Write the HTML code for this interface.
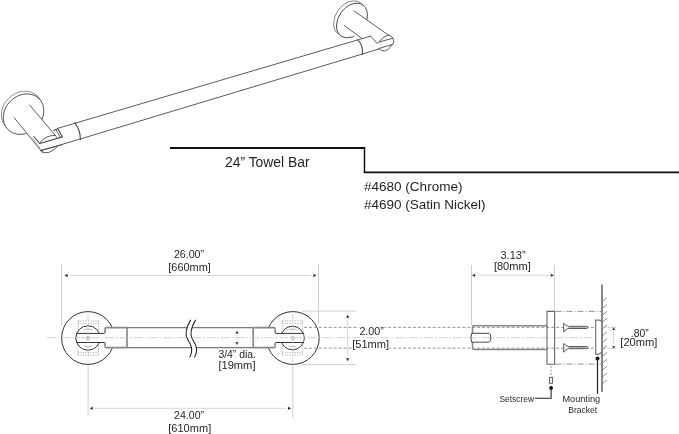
<!DOCTYPE html>
<html><head><meta charset="utf-8"><style>
html,body{margin:0;padding:0;background:#fff;overflow:hidden;}
svg{display:block;will-change:transform;}
text{font-family:"Liberation Sans",sans-serif;fill:#231f20;}
</style></head><body>
<svg width="679" height="434" viewBox="0 0 679 434">
<!-- ===== Label ===== -->
<g stroke="#111" fill="none">
  <line x1="170" y1="147.9" x2="365.2" y2="147.9" stroke-width="2"/>
  <line x1="364.5" y1="147" x2="364.5" y2="173" stroke-width="1.5"/>
  <line x1="363.8" y1="172.3" x2="679" y2="172.3" stroke-width="1.8"/>
</g>
<text x="225.0" y="166.5" font-size="14.5" textLength="84.6" lengthAdjust="spacingAndGlyphs">24” Towel Bar</text>
<text x="363.9" y="191.4" font-size="13.5" textLength="98.6" lengthAdjust="spacingAndGlyphs">#4680 (Chrome)</text>
<text x="363.9" y="208.9" font-size="13.5" textLength="121.6" lengthAdjust="spacingAndGlyphs">#4690 (Satin Nickel)</text>

<!-- ===== Isometric drawing ===== -->
<g fill="none" stroke="#4a4a4a" stroke-width="0.9" stroke-linecap="round" stroke-linejoin="round">
  <!-- left flange -->
  <ellipse cx="21.7" cy="111.4" rx="22" ry="18.5" transform="rotate(-45 21.7 111.4)" fill="#fff" stroke="#777" stroke-width="0.8"/>
  <ellipse cx="23.6" cy="114.1" rx="22" ry="18.5" transform="rotate(-45 23.6 114.1)" fill="#fff"/>
  <!-- left post body (white) -->
  <polygon points="29.8,105.2 57,137.7 62.5,144.7 42.9,152.9 28,135.3 14.2,117.8" fill="#fff" stroke="none"/>
  <line x1="29.8" y1="105.2" x2="56.8" y2="137.3"/>
  <line x1="14.2" y1="117.8" x2="42.9" y2="152.9"/>
  <line x1="32.3" y1="137.7" x2="39.7" y2="147.8" stroke="#aaa"/>
  <!-- end cap ellipse arcs -->
  <path d="M39.7,143.1 Q44,135.5 55.4,135.3"/>
  <path d="M42.1,151.8 Q48.4,155.5 57,147"/>
  <!-- right flange -->
  <ellipse cx="349.1" cy="18.2" rx="19" ry="13.5" transform="rotate(-55 349.1 18.2)" fill="#fff" stroke="#777" stroke-width="0.8"/>
  <ellipse cx="352" cy="20.5" rx="19" ry="13.5" transform="rotate(-55 352 20.5)" fill="#fff"/>
  <!-- right post -->
  <polygon points="354,10.9 388.3,35 393.8,41.2 384.6,51.1 362.3,45 344.2,25.4" fill="#fff" stroke="none"/>
  <line x1="354" y1="10.9" x2="388.3" y2="35"/>
  <line x1="344.2" y1="25.4" x2="362.3" y2="38.8"/>
  <!-- bar body -->
  <polygon points="57.8,128.3 370.6,36.1 378.7,49.1 62.5,145" fill="#fff" stroke="none"/>
  <line x1="57.8" y1="128.3" x2="370.6" y2="36.1"/>
  <line x1="40.9" y1="150.8" x2="378.7" y2="49.1"/>
  <!-- slot -->
  <path d="M33.9,136.5 L39.7,143.5 L62.5,136.9 L57.8,128.7 L53.8,130.6" stroke-width="1.1"/>
  <line x1="56" y1="129.6" x2="60.3" y2="137.4"/>
  <path d="M40.9,150.2 L62.5,144.7"/>
  <!-- left ring -->
  <path d="M74.8,122.8 Q80.5,130 80.4,139.8" stroke-width="1.1"/>
  <!-- right ring -->
  <path d="M357.7,39.8 Q363.5,45 362.3,54.5" stroke-width="1.1"/>
  <!-- right post end -->
  <path d="M370.6,36.1 L375.2,41.1 L377,43.5 L378.9,42.1 Q382,37 388.3,35 Q393,36 393.8,41.2 Q393.5,45 391.2,45.6 Q389,50 384.6,51.1 Q381,51 379.5,49.3"/>
  <line x1="379.5" y1="41.9" x2="392.7" y2="38.3"/>
  <line x1="378.7" y1="48.6" x2="392.3" y2="44.5"/>
</g>

<!-- ===== Elevation: dimension lines (light) ===== -->
<g fill="none" stroke="#c8c8c8" stroke-width="0.9">
  <!-- 26.00 -->
  <line x1="61.6" y1="264" x2="61.6" y2="325.5"/>
  <line x1="318.5" y1="264" x2="318.5" y2="323.5"/>
  <!-- 24.00 -->
  <line x1="88.1" y1="364" x2="88.1" y2="416.5"/>
  <line x1="292.8" y1="364" x2="292.8" y2="418"/>
  <!-- 2.00 -->
  <line x1="302" y1="311.1" x2="356" y2="311.1"/>
  <line x1="302" y1="364.6" x2="356" y2="364.6"/>
  <!-- 3.13 -->
  <line x1="471.5" y1="265" x2="471.5" y2="325.3"/>
  <line x1="554.4" y1="265" x2="554.4" y2="311"/>
</g>
<g fill="none" stroke="#d2d2d2" stroke-width="0.9">
  <line x1="70.5" y1="275.5" x2="311" y2="275.5"/>
  <line x1="95" y1="408.3" x2="286" y2="408.3"/>
  <line x1="347.7" y1="320" x2="347.7" y2="356"/>
  <line x1="477.5" y1="275.3" x2="550.5" y2="275.3"/>
  <line x1="613.7" y1="331.5" x2="613.7" y2="344.4"/>
</g>
<!-- arrowheads: faint barbs -->
<g fill="none" stroke="#ccc" stroke-width="0.6">
  <path d="M64.8,275.5 L69,272.3 M64.8,275.5 L69,278.7"/>
  <path d="M316.2,275.5 L312,272.3 M316.2,275.5 L312,278.7"/>
  <path d="M90,408.3 L94.2,405.1 M90,408.3 L94.2,411.5"/>
  <path d="M290.8,408.3 L286.6,405.1 M290.8,408.3 L286.6,411.5"/>
  <path d="M347.7,315 L344.5,319.2 M347.7,315 L350.9,319.2"/>
  <path d="M347.7,361 L344.5,356.8 M347.7,361 L350.9,356.8"/>
  <path d="M472.3,275.3 L476.5,272.1 M472.3,275.3 L476.5,278.5"/>
  <path d="M553.6,275.3 L549.4,272.1 M553.6,275.3 L549.4,278.5"/>
  <path d="M613.7,327.5 L611.2,331 M613.7,327.5 L616.2,331"/>
  <path d="M613.7,348.4 L611.2,344.9 M613.7,348.4 L616.2,344.9"/>
</g>
<g fill="#222" stroke="none">
  <polygon points="64.6,275.5 67.6,274.1 67.6,276.9"/>
  <polygon points="316.4,275.5 313.4,274.1 313.4,276.9"/>
  <polygon points="89.8,408.3 92.8,406.9 92.8,409.7"/>
  <polygon points="291,408.3 288,406.9 288,409.7"/>
  <polygon points="347.7,314.8 346.3,317.8 349.1,317.8"/>
  <polygon points="347.7,361.2 346.3,358.2 349.1,358.2"/>
  <polygon points="472.1,275.3 475.1,273.9 475.1,276.7"/>
  <polygon points="553.8,275.3 550.8,273.9 550.8,276.7"/>
  <polygon points="613.7,327.3 612.5,329.9 614.9,329.9"/>
  <polygon points="613.7,348.6 612.5,346 614.9,346"/>
</g>


<!-- ===== Elevation: parts ===== -->
<g fill="#fff" stroke="#333" stroke-width="1">
  <circle cx="88" cy="338" r="26.4"/>
  <circle cx="88" cy="338" r="12.2"/>
  <circle cx="292.8" cy="338" r="26.4"/>
  <circle cx="292.5" cy="338" r="11.8"/>
</g>
<!-- hidden (dotted) rectangles -->
<g fill="none" stroke="#888" stroke-width="0.8" stroke-dasharray="1 1.5">
  <path d="M78.1,320.9 H98.5 M78.1,323.4 H98.5 M78.1,352.6 H98.5 M78.1,355.1 H98.5 M78.1,320.9 V355.1 M98.5,320.9 V355.1"/>
  <path d="M282.3,320.9 H302.7 M282.3,323.4 H302.7 M282.3,352.6 H302.7 M282.3,355.1 H302.7 M282.3,320.9 V355.1 M302.7,320.9 V355.1"/>
</g>
<!-- posts / bar (white fills to hide circle parts) -->
<path d="M77.6,333.4 L104.2,333.4 Q105,333.4 105,332.4 L105,328.5 Q105,327.6 106,327.6 L274.2,327.6 Q275.1,327.6 275.1,328.5 L275.1,332.3 Q275.1,333.4 276,333.4 L303.3,333.4 L303.3,342.5 L276,342.5 Q275.1,342.5 275.1,343.4 L275.1,346.7 Q275.1,347.6 274.2,347.6 L106,347.6 Q105,347.6 105,346.7 L105,343.3 Q105,342.5 104.2,342.5 L77.6,342.5" fill="#fff" stroke="none"/>
<g fill="none" stroke="#333" stroke-width="1">
  <path d="M76.9,333.4 L104.2,333.4 Q105,333.4 105,332.4 L105,329"/>
  <path d="M76.9,342.5 L104.2,342.5 Q105,342.5 105,343.3 L105,346.5"/>
  <path d="M304,333.4 L276,333.4 Q275.1,333.4 275.1,332.3 L275.1,329"/>
  <path d="M304,342.5 L276,342.5 Q275.1,342.5 275.1,343.4 L275.1,346.5"/>
</g>
<g fill="none" stroke="#888" stroke-width="1.7">
  <path d="M105,329 Q105,327.6 106.4,327.6 L127,327.6"/>
  <path d="M105,346.5 Q105,347.6 106.4,347.6 L127,347.6"/>
  <path d="M275.1,329 Q275.1,327.6 273.7,327.6 L253.2,327.6"/>
  <path d="M275.1,346.5 Q275.1,347.6 273.7,347.6 L253.2,347.6"/>
  <line x1="127" y1="327.6" x2="127" y2="347.6"/>
  <line x1="253.2" y1="327.6" x2="253.2" y2="347.6"/>
</g>
<g fill="none" stroke="#7a7a7a" stroke-width="1.4">
  <line x1="127" y1="327.6" x2="253.2" y2="327.6"/>
  <line x1="127" y1="347.6" x2="253.2" y2="347.6"/>
</g>
<!-- break -->
<path d="M190.7,319.9 C186.5,327 184.8,334 187.3,338.8 C189.5,343 194.5,348 189.6,357.3 L194.5,357.3 C199.4,348 194.4,343 192.2,338.8 C189.7,334 191.4,327 195.6,319.9 Z" fill="#fff" stroke="none"/>
<g fill="none" stroke="#222" stroke-width="1.1">
  <path d="M190.7,319.9 C186.5,327 184.8,334 187.3,338.8 C189.5,343 194.5,348 189.6,357.3"/>
  <path d="M195.6,319.9 C191.4,327 189.7,334 192.2,338.8 C194.4,343 199.4,348 194.5,357.3"/>
</g>
<!-- small inner marks -->
<g fill="none" stroke="#999" stroke-width="0.7">
  <circle cx="88" cy="338" r="1.6"/>
  <circle cx="292.5" cy="338" r="1.6"/>
  <path d="M84,330 Q88,327.8 92,330 M84,346 Q88,348.2 92,346"/>
  <path d="M288.5,330 Q292.5,327.8 296.5,330 M288.5,346 Q292.5,348.2 296.5,346"/>
</g>
<!-- dashed lines from flange to side view -->
<g stroke="#8c8c8c" stroke-width="0.9" stroke-dasharray="3 1.95" fill="none">
  <line x1="304" y1="327.4" x2="472" y2="327.4"/>
  <line x1="304" y1="348.2" x2="472" y2="348.2"/>
</g>
<!-- center dash-dot line -->
<line x1="47" y1="337.7" x2="602" y2="337.7" stroke="#c4c4c4" stroke-width="0.8" stroke-dasharray="9 2 1.5 2"/>
<line x1="88" y1="314" x2="88" y2="362" stroke="#c4c4c4" stroke-width="0.7" stroke-dasharray="6 2 1.5 2"/>
<line x1="292.8" y1="314" x2="292.8" y2="362" stroke="#c4c4c4" stroke-width="0.7" stroke-dasharray="6 2 1.5 2"/>

<!-- 3/4 dia arrow -->
<line x1="237" y1="333" x2="237" y2="343" stroke="#c8c8c8" stroke-width="0.8" stroke-dasharray="1.2 1"/>
<path d="M237,331 L234.8,334.3 M237,331 L239.2,334.3 M237,344.7 L234.8,341.4 M237,344.7 L239.2,341.4" stroke="#bbb" stroke-width="0.6" fill="none"/>
<polygon points="237,330.8 235.8,333.4 238.2,333.4" fill="#222"/>
<polygon points="237,344.9 235.8,342.3 238.2,342.3" fill="#222"/>
<!-- ===== Side view ===== -->
<!-- long dashed lines through side view -->
<g stroke="#8c8c8c" stroke-width="0.9" stroke-dasharray="3 1.95" fill="none">
  <line x1="472" y1="327.4" x2="601" y2="327.4"/>
  <line x1="472" y1="348.2" x2="601" y2="348.2"/>
</g>
<g fill="none" stroke="#888" stroke-width="1.5">
  <path d="M472.5,333.3 L472.5,327 Q472.5,325.8 473.7,325.8 L547,325.8"/>
  <path d="M472.5,342.2 L472.5,348.3 Q472.5,349.5 473.7,349.5 L547,349.5"/>
</g>
<path d="M471.6,333.3 L489,333.3 Q490.9,334 490.9,337.7 Q490.9,341.5 489,342.2 L471.6,342.2 Q470.4,337.7 471.6,333.3 Z" fill="none" stroke="#333" stroke-width="0.9"/>
<!-- flange side -->
<g fill="none" stroke="#666" stroke-width="1.1">
  <path d="M547,364.2 L547,311.4 L554.6,311.4 L554.6,364.2 Z"/>
</g>
<g stroke="#777" stroke-width="0.8" stroke-dasharray="6 2 1 2" fill="none">
  <line x1="555.5" y1="311.4" x2="601" y2="311.4"/>
  <line x1="555.5" y1="364.1" x2="601" y2="364.1"/>
</g>
<line x1="551.1" y1="366" x2="551.1" y2="377" stroke="#888" stroke-width="0.8" stroke-dasharray="2 1.5"/>
<!-- screws -->
<g fill="#fff" stroke="#333" stroke-width="0.8" stroke-linejoin="round">
  <path d="M563.7,323.2 L563.7,332 Q565.5,329 568.5,328.5 L586.8,328.5 L588.3,327.4 L586.8,326.3 L568.5,326.3 Q565.5,325.8 563.7,323.2 Z"/>
  <path d="M563.7,343.4 L563.7,352.2 Q565.5,349.2 568.5,348.7 L586.8,348.7 L588.3,347.6 L586.8,346.5 L568.5,346.5 Q565.5,346 563.7,343.4 Z"/>
</g>
<g fill="none" stroke="#555" stroke-width="0.5">
  <polyline points="568.5,326.4 569.5,328.4 570.5,326.4 571.5,328.4 572.5,326.4 573.5,328.4 574.5,326.4 575.5,328.4 576.5,326.4 577.5,328.4 578.5,326.4 579.5,328.4 580.5,326.4 581.5,328.4 582.5,326.4 583.5,328.4 584.5,326.4 585.5,328.4 586.5,326.4"/>
  <polyline points="568.5,346.6 569.5,348.6 570.5,346.6 571.5,348.6 572.5,346.6 573.5,348.6 574.5,346.6 575.5,348.6 576.5,346.6 577.5,348.6 578.5,346.6 579.5,348.6 580.5,346.6 581.5,348.6 582.5,346.6 583.5,348.6 584.5,346.6 585.5,348.6 586.5,346.6"/>
</g>
<!-- bracket -->
<path d="M602,321.8 L599.2,320.1 L595.7,320.1 L595.7,354.4 L598.5,354.4 L602,352" fill="#fff" stroke="#777" stroke-width="1.2"/>
<!-- wall -->
<line x1="602" y1="284.4" x2="602" y2="391.8" stroke="#6a6a6a" stroke-width="1.6"/>
<path d="M602,301.8 L607,297.6 M602,308.7 L607,304.5 M602,315.5 L607,311.3 M602,322.4 L607,318.2 M602,329.2 L607,325.0 M602,336.1 L607,331.9 M602,343.0 L607,338.8 M602,349.8 L607,345.6 M602,356.7 L607,352.5 M602,363.5 L607,359.3 M602,370.4 L607,366.2 M602,377.3 L607,373.1 M602,384.1 L607,379.9" stroke="#777" stroke-width="0.85" fill="none"/>
<!-- .80 ticks -->
<g stroke="#aaa" stroke-width="0.8" stroke-dasharray="2 1.5">
  <line x1="604" y1="327.4" x2="616" y2="327.4"/>
  <line x1="604" y1="348.4" x2="616" y2="348.4"/>
</g>
<!-- setscrew -->
<rect x="549.4" y="377.4" width="3.2" height="5.9" fill="#fff" stroke="#444" stroke-width="0.8"/>
<circle cx="551.1" cy="387.9" r="1.9" fill="#111"/>
<polyline points="551.1,388 551.1,398.2 535,398.2" fill="none" stroke="#222" stroke-width="1.1"/>
<circle cx="597.5" cy="358.5" r="2" fill="#111"/>
<line x1="597.5" y1="358.4" x2="597.5" y2="393.9" stroke="#222" stroke-width="1.2"/>

<!-- ===== Dimension text ===== -->
<rect x="359" y="325.8" width="25.5" height="3.4" fill="#fff"/>
<rect x="352" y="346.6" width="37.5" height="3.4" fill="#fff"/>
<g font-size="10.3">
  <text x="173.9" y="257.5" textLength="30.2" lengthAdjust="spacingAndGlyphs">26.00”</text>
  <text x="168.3" y="270.9" textLength="42.5" lengthAdjust="spacingAndGlyphs">[660mm]</text>
  <text x="174.1" y="418.6" textLength="30.0" lengthAdjust="spacingAndGlyphs">24.00”</text>
  <text x="168.3" y="431.5" textLength="42.9" lengthAdjust="spacingAndGlyphs">[610mm]</text>
  <text x="500.5" y="258.9" textLength="25.1" lengthAdjust="spacingAndGlyphs">3.13”</text>
  <text x="493.9" y="270.2" textLength="36.9" lengthAdjust="spacingAndGlyphs">[80mm]</text>
  <text x="359.4" y="334.5" textLength="24.4" lengthAdjust="spacingAndGlyphs">2.00”</text>
  <text x="352.2" y="347.8" textLength="36.9" lengthAdjust="spacingAndGlyphs">[51mm]</text>
  <text x="630.8" y="337" textLength="17.9" lengthAdjust="spacingAndGlyphs">.80”</text>
  <text x="620.3" y="345.5" textLength="37.1" lengthAdjust="spacingAndGlyphs">[20mm]</text>
  <text x="218.4" y="357.6" textLength="37.6" lengthAdjust="spacingAndGlyphs">3/4” dia.</text>
  <text x="218.4" y="369" textLength="37.1" lengthAdjust="spacingAndGlyphs">[19mm]</text>
</g>
<g font-size="8.6">
  <text x="499.4" y="401.7" textLength="34.6" lengthAdjust="spacingAndGlyphs">Setscrew</text>
  <text x="562.4" y="401.7" textLength="37.8" lengthAdjust="spacingAndGlyphs">Mounting</text>
  <text x="568.3" y="412.7" textLength="28.7" lengthAdjust="spacingAndGlyphs">Bracket</text>
</g>
</svg>
</body></html>
